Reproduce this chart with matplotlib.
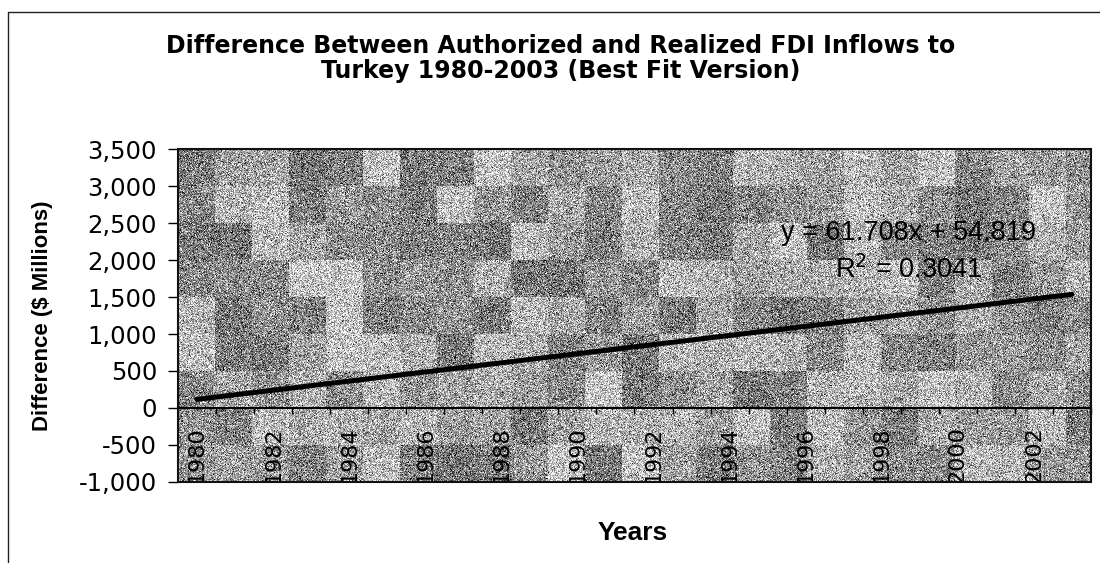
import numpy as np
import matplotlib
matplotlib.use('Agg')
import matplotlib.pyplot as plt
from matplotlib.lines import Line2D
from matplotlib.patches import Rectangle
from matplotlib.ticker import FuncFormatter

# years on the category axis and the fitted trend (x = 1 for 1980)
years = list(range(1980, 2004))
year_labels = [str(y) if (y - 1980) % 2 == 0 else '' for y in years]
slope = 61.708
intercept = 54.819
r_squared = 0.3041
y_ticks = [-1000, -500, 0, 500, 1000, 1500, 2000, 2500, 3000, 3500]

title_lines = ['Difference Between Authorized and Realized FDI Inflows to',
               'Turkey 1980-2003 (Best Fit Version)']

fig = plt.figure(figsize=(11, 5.63), dpi=100)
ax = fig.add_axes([0.1618, 0.1439, 0.8300, 0.5914])

# grey stone-like fill of the plot area
rng = np.random.default_rng(11)
h, w, cell = 333, 913, 37
blocks = rng.uniform(0.46, 0.78, size=(h // cell + 2, w // cell + 2))
tex = np.kron(blocks, np.ones((cell, cell)))[:h, :w]
tex = tex + rng.normal(0, 0.21, size=(h, w))
tex = np.clip(tex, 0, 1)
ax.imshow(tex, cmap='gray', vmin=0, vmax=1, aspect='auto',
          extent=(-0.5, len(years) - 0.5, y_ticks[0], y_ticks[-1]),
          interpolation='nearest', zorder=0)

# trend line evaluated at the first and last category
idx = np.array([0, len(years) - 1])
trend = slope * (idx + 1) + intercept
ax.plot(idx, trend, color='black', lw=3.6, solid_capstyle='round', zorder=3)

ax.text(18.7, 2365, 'y = {:.3f}x + {:.3f}'.format(slope, intercept),
        ha='center', va='center', fontsize=19.5, family='Liberation Sans', zorder=4)
ax.text(18.7, 1865, 'R$^2$ = {:.4f}'.format(r_squared),
        ha='center', va='center', fontsize=19.5, family='Liberation Sans', zorder=4)

ax.set_xlim(-0.5, len(years) - 0.5)
ax.set_ylim(y_ticks[0], y_ticks[-1])

# value axis
ax.set_yticks(y_ticks)
ax.yaxis.set_major_formatter(FuncFormatter(lambda v, p: '{:,.0f}'.format(v)))
ax.tick_params(axis='y', direction='out', length=7, width=1, pad=8,
               labelsize=17.5, colors='black')

# category axis sits on the zero line
ax.spines['bottom'].set_position(('data', 0))
ax.spines['bottom'].set_linewidth(1.5)
ax.set_xticks(np.arange(-0.5, len(years)))
ax.set_xticklabels([])
ax.tick_params(axis='x', which='major', direction='out', length=4, width=1)
ax.set_xticks(np.arange(len(years)), minor=True)
ax.set_xticklabels(year_labels, minor=True, rotation=90, fontsize=16)
ax.tick_params(axis='x', which='minor', length=0, pad=13)
for t in ax.xaxis.get_minor_ticks():
    t.label1.set_clip_on(True)
    t.label1.set_clip_box(ax.bbox)

for s in ['top', 'right']:
    ax.spines[s].set_visible(False)
ax.spines['left'].set_linewidth(1.2)
ax.add_patch(Rectangle((0, 0), 1, 1, transform=ax.transAxes, fill=False,
                       edgecolor='#111111', lw=1.5, zorder=5, clip_on=False))

ax.set_ylabel('Difference ($ Millions)', fontsize=16, fontweight='bold',
              family='Liberation Sans')
ax.yaxis.set_label_coords(-0.137, 0.5)
fig.text(0.575, 0.040, 'Years', ha='center', va='baseline', fontsize=19,
         fontweight='bold', family='Liberation Sans')

fig.text(0.51, 1 - 53 / 563, title_lines[0], ha='center', va='baseline',
         fontsize=17, fontweight='bold')
fig.text(0.51, 1 - 78 / 563, title_lines[1], ha='center', va='baseline',
         fontsize=17, fontweight='bold')

# outer chart frame
fig.add_artist(Line2D([7.5 / 1100, 7.5 / 1100, 1.0],
                      [0.0, 1 - 11.5 / 563, 1 - 11.5 / 563],
                      transform=fig.transFigure, color='#222222', lw=1))

fig.savefig('out.png', dpi=100)
